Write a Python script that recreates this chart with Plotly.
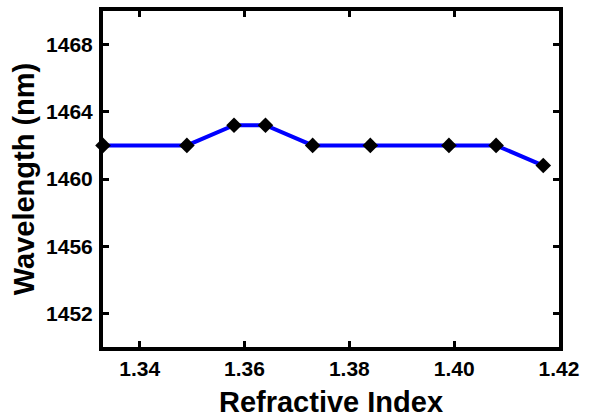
import plotly.graph_objects as go

refractive_index = [1.333, 1.349, 1.358, 1.364, 1.373, 1.384, 1.399, 1.408, 1.417]
wavelength_nm = [1462.0, 1462.0, 1463.2, 1463.2, 1462.0, 1462.0, 1462.0, 1462.0, 1460.8]

x_ticks = [1.34, 1.36, 1.38, 1.40, 1.42]
x_tick_labels = ["1.34", "1.36", "1.38", "1.40", "1.42"]
y_ticks = [1452, 1456, 1460, 1464, 1468]
y_tick_labels = ["1452", "1456", "1460", "1464", "1468"]

FONT = "Liberation Sans, Arial, sans-serif"

fig = go.Figure()
fig.add_trace(go.Scatter(
    x=refractive_index, y=wavelength_nm,
    mode="lines+markers",
    line=dict(color="#0000FF", width=4),
    marker=dict(symbol="diamond", size=12, color="black"),
    cliponaxis=False,
    showlegend=False,
))

axis_common = dict(
    showline=True, linecolor="black", linewidth=4, mirror="ticks",
    ticks="inside", ticklen=6, tickwidth=3, tickcolor="black",
    showgrid=False, zeroline=False,
    tickfont=dict(family=FONT, size=21, color="black", weight="bold"),
)

fig.update_xaxes(
    range=[1.333, 1.42], tickvals=x_ticks, ticktext=x_tick_labels,
    title=dict(text="Refractive Index", standoff=14,
               font=dict(family=FONT, size=29, color="black", weight="bold")),
    **axis_common,
)
fig.update_yaxes(
    range=[1450, 1470], tickvals=y_ticks, ticktext=y_tick_labels,
    ticklabelstandoff=2,
    title=dict(text="Wavelength (nm)", standoff=4,
               font=dict(family=FONT, size=29, color="black", weight="bold")),
    **axis_common,
)

fig.update_layout(
    width=590, height=418,
    margin=dict(l=103, r=31, t=11, b=71, autoexpand=False),
    paper_bgcolor="white", plot_bgcolor="white",
)

fig.write_html("out.html")
